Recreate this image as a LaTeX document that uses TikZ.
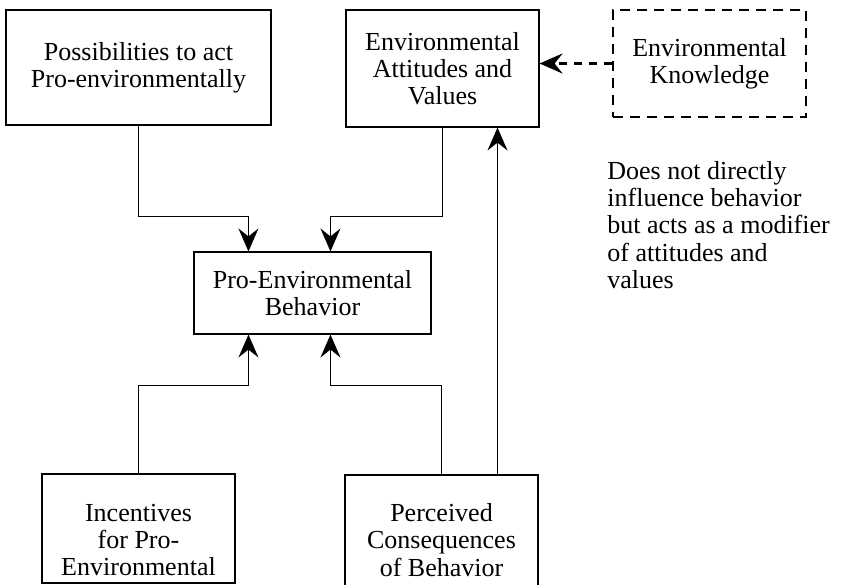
\documentclass[tikz,border=0pt]{standalone}
\usepackage{fontspec}
\setmainfont{Liberation Serif}
\usetikzlibrary{arrows.meta,positioning}

\tikzset{
	box/.style={draw, line width=0.55pt, align=center, font=\fontsize{13}{13.6}\selectfont},
	dashbox/.style={box, line width=1.2pt, dash pattern=on 5pt off 3.5pt},
	boxtext/.style={align=center, font=\fontsize{13}{13.6}\selectfont},
	notetext/.style={align=left, inner sep=0pt, font=\fontsize{13}{13.6}\selectfont},
	flow/.style={line width=0.55pt, -{Stealth[length=11.5pt, width=10pt, inset=4pt]}},
	dashflow/.style={flow, line width=1.2pt, dash pattern=on 4pt off 3.5pt}
}

\begin{document}
\begin{tikzpicture}[x=0.5pt, y=-0.5pt]
	%%%%% START %%%%%
	\useasboundingbox (0, 0) rectangle (844, 584);

	% top row
	\node[box, minimum width=132.5pt, minimum height=57.5pt] (poss) at (138.5, 67.5) {Possibilities to act\\Pro-environmentally};
	\node[box, minimum width=96.5pt, minimum height=58.5pt] (attit) at (442.5, 68.5) {Environmental\\Attitudes and\\Values};
	\node[dashbox, minimum width=96.5pt, minimum height=53.5pt] (know) at (709.5, 63.5) {Environmental\\Knowledge};

	\node[notetext, anchor=north west] (note) at (607, 161) {Does not directly\\influence behavior\\but acts as a modifier\\of attitudes and\\values};

	% middle
	\node[box, minimum width=118.5pt, minimum height=41pt] (behav) at (312.5, 293) {Pro-Environmental\\Behavior};

	% bottom row (runs off the page)
	\node[box, minimum width=96.5pt, minimum height=54.5pt] (incent) at (138.5, 528.5) {};
	\node[boxtext] (incentlbl) at (138.5, 540) {Incentives\\for Pro-\\Environmental};
	\node[box, minimum width=96.5pt, minimum height=65pt] (percv) at (441.5, 540) {Perceived\\Consequences\\of Behavior};

	% arrows into behavior
	\draw[flow] (poss.south) -- ++(0, 91) -| ([xshift=27.5pt]behav.north west);
	\draw[flow] (attit.south) -- ++(0, 89) -| ([xshift=68.5pt]behav.north west);
	\draw[flow] (incent.north) -- ++(0, -88) -| ([xshift=27.5pt]behav.south west);
	\draw[flow] (percv.north) -- ++(0, -89) -| ([xshift=68.5pt]behav.south west);

	% feedback and knowledge
	\draw[flow] ([xshift=28pt]percv.north) -- ([xshift=28pt]percv.north |- attit.south);
	\draw[dashflow] (know.west) -- (know.west -| attit.east);
	%%%%% END %%%%%
\end{tikzpicture}
\end{document}
